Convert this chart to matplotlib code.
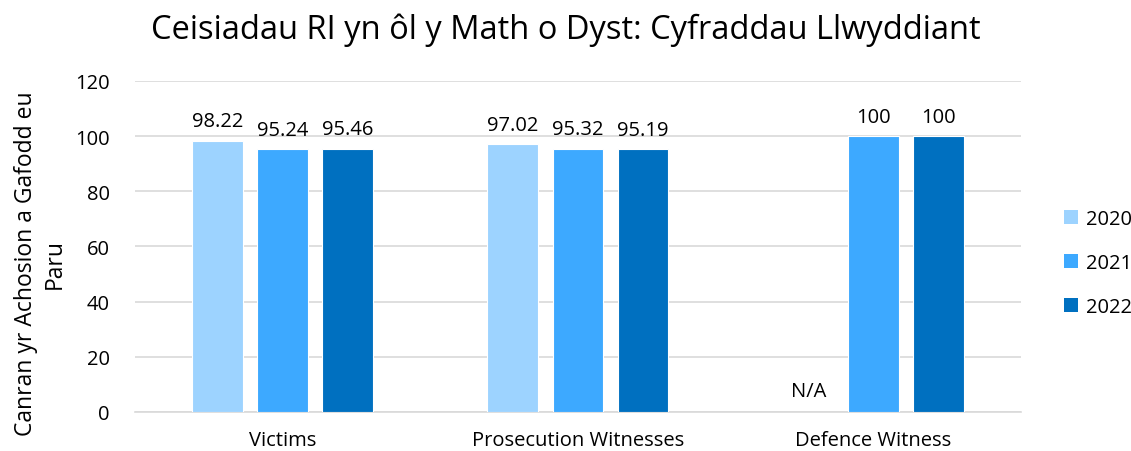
import numpy as np
import matplotlib.pyplot as plt
from matplotlib.patches import Patch

categories = ["Victims", "Prosecution Witnesses", "Defence Witness"]
years = ["2020", "2021", "2022"]
values_2020 = [98.22, 97.02, None]
values_2021 = [95.24, 95.32, 100]
values_2022 = [95.46, 95.19, 100]
colors = ["#9DD3FF", "#3DA9FF", "#0070C0"]

plt.rcParams['font.family'] = ['Open Sans', 'DejaVu Sans']

fig = plt.figure(figsize=(11.31, 4.52), dpi=100)
ax = fig.add_axes([0.119, 0.0863, 0.784, 0.7323])

x = np.arange(len(categories))
width = 0.172
step = 0.22
series = [values_2020, values_2021, values_2022]
for i, (vals, col) in enumerate(zip(series, colors)):
    pos = x + (i - 1) * step
    for p, v in zip(pos, vals):
        if v is None:
            ax.text(p, 4, "N/A", ha="center", va="bottom", fontsize=14.5, color="#000000")
            continue
        ax.bar(p, v, width=width, color=col, edgecolor="white", linewidth=0.8, zorder=3)
        lbl = f"{v:.2f}" if v != int(v) else f"{int(v)}"
        ax.text(p, v + 3.5, lbl, ha="center", va="bottom", fontsize=14.5, color="#000000")

ax.set_xlim(-0.5, 2.5)
ax.set_ylim(0, 120)
ax.set_yticks(range(0, 121, 20))
ax.set_xticks(x)
ax.set_xticklabels(categories)
ax.tick_params(axis="both", length=0, labelsize=14.5, colors="#000000")
ax.tick_params(axis="x", pad=13)
ax.tick_params(axis="y", pad=18)
ax.grid(axis="y", color="#D9D9D9", linewidth=1.2, zorder=0)
for s in ["top", "right", "left"]:
    ax.spines[s].set_visible(False)
ax.spines["bottom"].set_color("#D9D9D9")
ax.spines["bottom"].set_linewidth(1.2)

ax.set_ylabel("Canran yr Achosion a Gafodd eu\nParu", fontsize=16.5, linespacing=1.25)
ax.yaxis.set_label_coords(-0.077, 0.45)
fig.suptitle("Ceisiadau RI yn ôl y Math o Dyst: Cyfraddau Llwyddiant", fontsize=23.5, y=0.97)

handles = [Patch(facecolor=c, label=y) for c, y in zip(colors, years)]
fig.legend(handles=handles, loc="center left", bbox_to_anchor=(0.925, 0.416), frameon=False,
           fontsize=14.5, handlelength=0.7, handleheight=0.7, handletextpad=0.4, labelspacing=1.2)

fig.savefig("out.png", dpi=100)
